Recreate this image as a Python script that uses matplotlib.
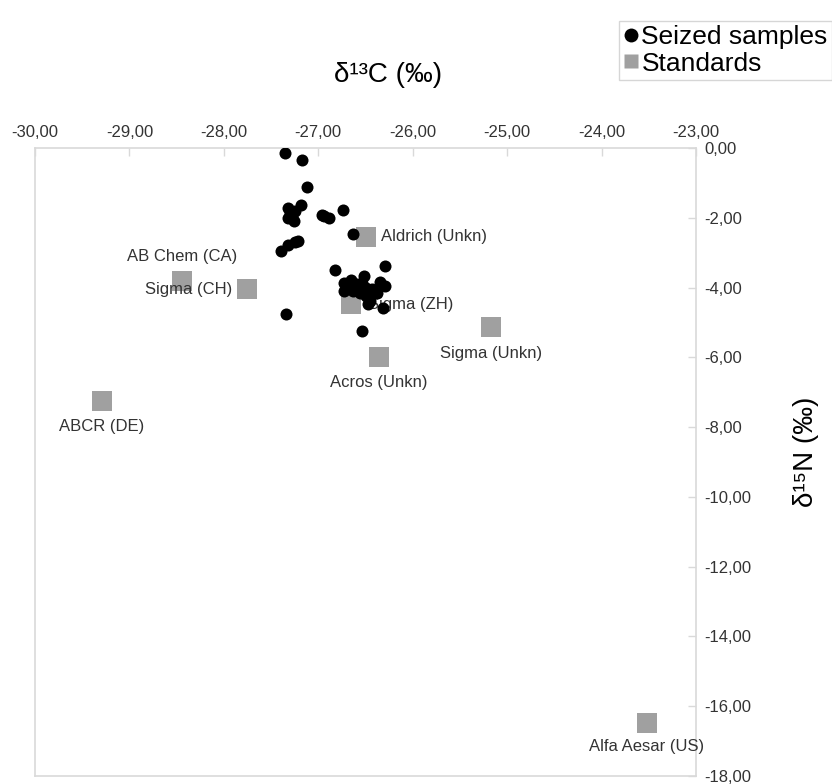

# Isotopos: d13C frente a d15N, muestras incautadas y patrones comerciales
import matplotlib
matplotlib.use("Agg")
import matplotlib.pyplot as plt
from matplotlib.lines import Line2D
from matplotlib.ticker import FuncFormatter, MultipleLocator

# muestras incautadas
muestras_c13 = [-27.35, -27.17, -27.12, -27.18, -27.32, -27.30, -27.32, -27.26,
                -27.25, -27.28, -26.96, -26.94, -26.89, -26.74, -26.63, -27.39,
                -27.32, -27.25, -27.21, -26.82, -26.29, -26.73, -26.70, -26.65,
                -26.59, -26.52, -26.54, -26.49, -26.63, -26.73, -26.56, -26.43,
                -26.50, -26.45, -26.38, -26.29, -26.31, -26.54, -26.47, -27.34,
                -26.35]
muestras_n15 = [-0.14, -0.35, -1.12, -1.62, -1.71, -1.86, -2.00, -2.10,
                -1.81, -1.95, -1.93, -1.95, -2.00, -1.78, -2.46, -2.95,
                -2.77, -2.70, -2.67, -3.50, -3.39, -3.86, -4.01, -3.77,
                -3.91, -3.67, -3.86, -4.01, -4.10, -4.10, -4.15, -4.05,
                -4.25, -4.39, -4.15, -3.96, -4.58, -5.25, -4.46, -4.77,
                -3.85]

# patrones
patrones = ["Aldrich (Unkn)", "AB Chem (CA)", "Sigma (CH)", "Sigma (ZH)",
            "Acros (Unkn)", "Sigma (Unkn)", "ABCR (DE)", "Alfa Aesar (US)"]
patrones_c13 = [-26.50, -28.44, -27.76, -26.65, -26.36, -25.17, -29.29, -23.52]
patrones_n15 = [-2.54, -3.80, -4.05, -4.48, -6.00, -5.14, -7.26, -16.49]

# donde va cada etiqueta respecto al cuadrado (puntos)
desplaz = [(11, 0, "left"), (0, 17, "center"), (-10, 0, "right"), (12, 0, "left"),
           (0, -18, "center"), (0, -19, "center"), (0, -18, "center"), (0, -17, "center")]

plt.rcParams["font.family"] = ["Liberation Sans", "DejaVu Sans"]

gris_eje = "#d9d9d9"
gris_cuadro = "#a0a0a0"

fig = plt.figure(figsize=(8.32, 7.84), dpi=100)
ax = fig.add_axes([35 / 832, 1 - 776 / 784, 661 / 832, 628 / 784])

ax.scatter(patrones_c13, patrones_n15, marker="s", s=200, color=gris_cuadro,
           linewidths=0, zorder=2)
for nom, x, y, (dx, dy, ha) in zip(patrones, patrones_c13, patrones_n15, desplaz):
    ax.annotate(nom, (x, y), xytext=(dx, dy), textcoords="offset points",
                ha=ha, va="center", fontsize=12, color="#333333", zorder=3)
ax.scatter(muestras_c13, muestras_n15, marker="o", s=75, color="black",
           linewidths=0, zorder=4)

ax.set_xlim(-30, -23)
ax.set_ylim(-18, 0)
ax.xaxis.set_major_locator(MultipleLocator(1))
ax.yaxis.set_major_locator(MultipleLocator(2))
fmt = FuncFormatter(lambda v, p: f"{v:.2f}".replace(".", ","))
ax.xaxis.set_major_formatter(fmt)
ax.yaxis.set_major_formatter(fmt)

ax.xaxis.tick_top()
ax.yaxis.tick_right()
ax.tick_params(direction="in", length=6, width=1, color=gris_eje,
               labelsize=12, labelcolor="#333333", pad=6)
for s in ax.spines.values():
    s.set_color(gris_eje)
    s.set_linewidth(1.2)

# titulos de los ejes (no centrados en el eje, como en el original)
ax.set_xlabel("δ¹³C (‰)", fontsize=20)
ax.xaxis.set_label_position("top")
ax.xaxis.set_label_coords((388 - 35) / 661, (776 - 75) / 628)
ax.xaxis.label.set_va("center")
ax.set_ylabel("δ¹⁵N (‰)", fontsize=20, rotation=90)
ax.yaxis.set_label_position("right")
ax.yaxis.set_label_coords((806 - 35) / 661, (776 - 452) / 628)
ax.yaxis.label.set_va("center")

# leyenda: en el original se sale por la derecha
mano = [Line2D([], [], ls="none", marker="o", ms=10, mfc="black", mec="none"),
        Line2D([], [], ls="none", marker="s", ms=10, mfc=gris_cuadro, mec="none")]
fig.legend(mano, ["Seized samples", "Standards"], loc="upper left",
           bbox_to_anchor=(619 / 832, 1 - 21 / 784), borderaxespad=0,
           fontsize=19, frameon=True, fancybox=False, edgecolor="#cccccc",
           handletextpad=0.1, handlelength=0.6, borderpad=0.15,
           labelspacing=0.1)

fig.savefig("out.png", dpi=100)
